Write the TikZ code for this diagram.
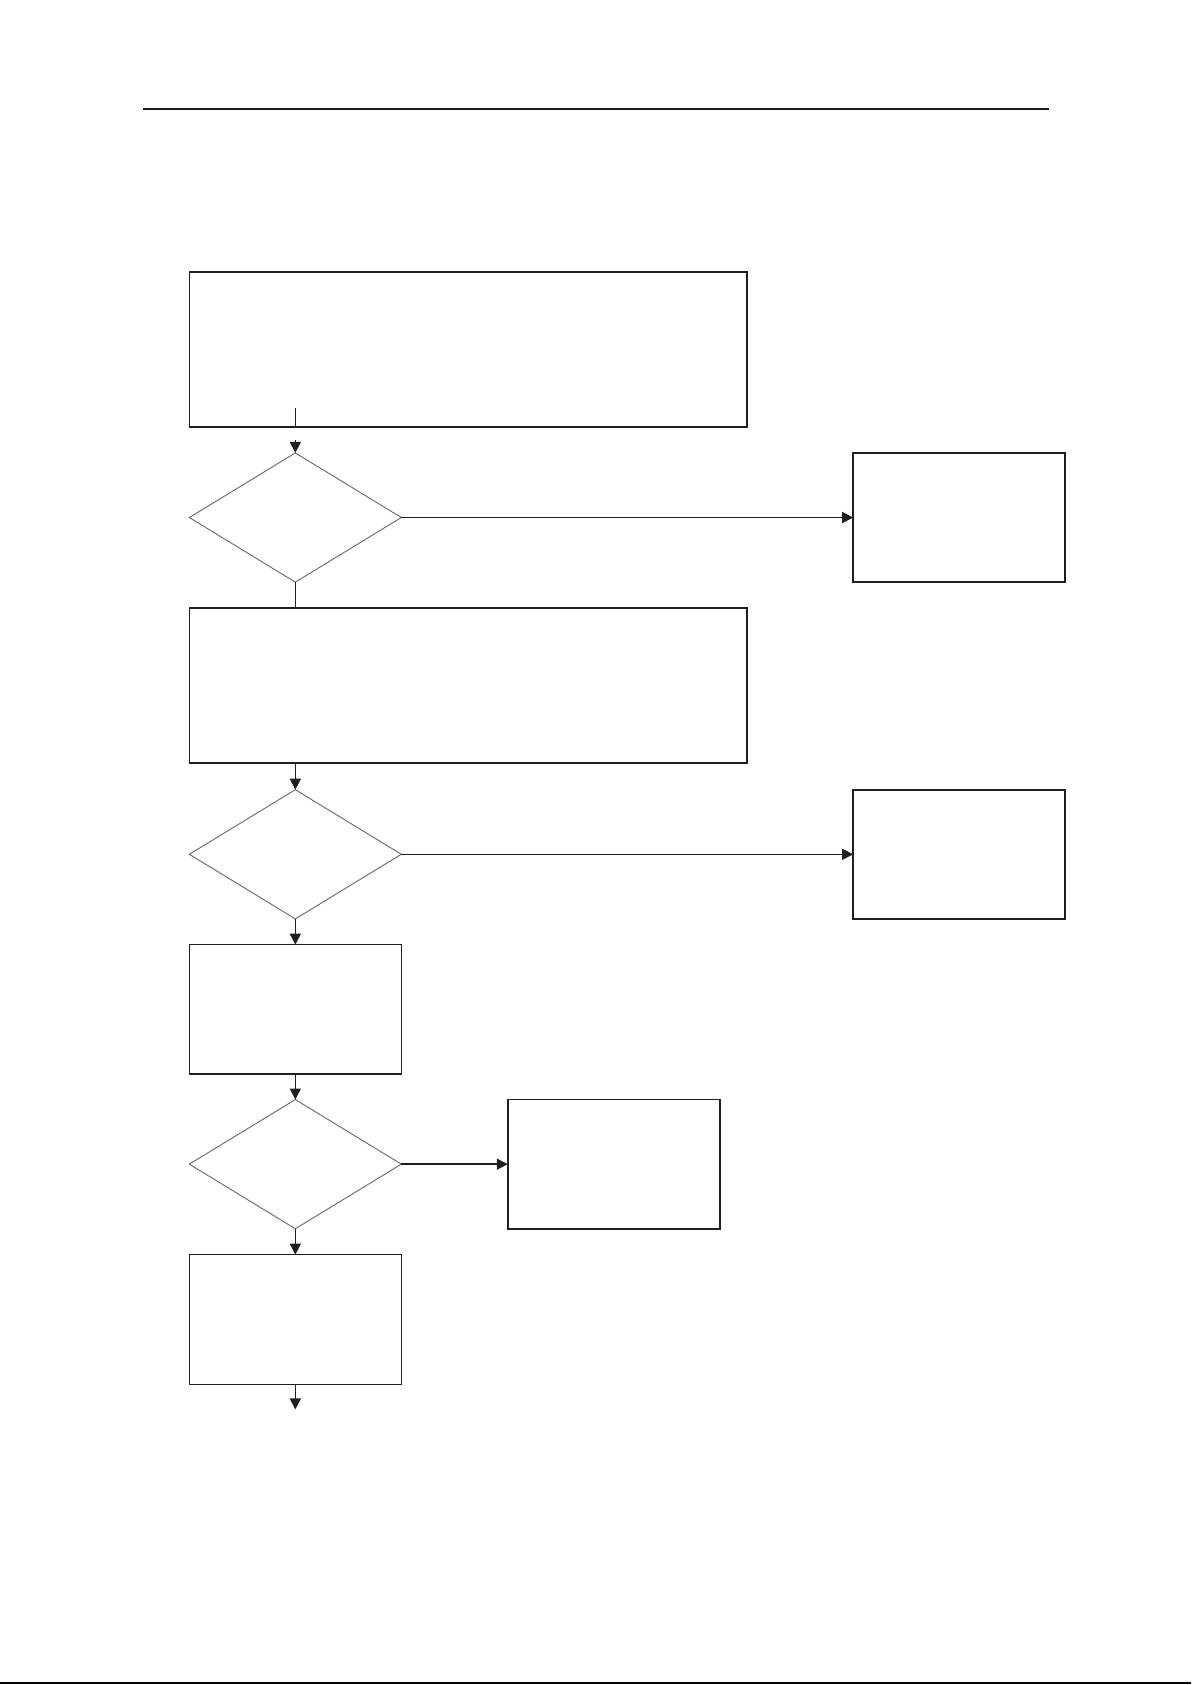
\documentclass[tikz,border=0pt]{standalone}
\usetikzlibrary{shapes.geometric,arrows.meta}
\begin{document}
\begin{tikzpicture}[x=0.538pt,y=-0.538pt,
  boxnode/.style={draw=black!88,line width=0.8pt,rectangle,inner sep=0pt,outer sep=0pt},
  decision/.style={draw=black!60,line width=0.45pt,diamond,inner sep=0pt,outer sep=0pt,
     minimum width=106pt,minimum height=64.6pt},
  conn/.style={draw=black!88,line width=0.75pt},
  arr/.style={conn,-{Triangle[length=5.5pt,width=5.5pt]}},
  rulestyle/.style={draw=black!90,line width=1.1pt}]
\useasboundingbox (0,0) rectangle (1107,1566.1);
\coordinate (ruleL) at (133,101);
\coordinate (ruleR) at (975,101);
\draw[rulestyle] (ruleL) -- (ruleR);
\coordinate (botL) at (0,1564.3);
\coordinate (botR) at (1107,1564.3);
\draw[draw=black,line width=1.1pt] (botL) -- (botR);

\node[boxnode,minimum width=278.7pt,minimum height=77.5pt] (b1) at (435,325) {};
\node[decision] (d1) at (274.5,481) {};
\node[boxnode,minimum width=106pt,minimum height=64.6pt] (r1) at (891.5,481) {};
\node[boxnode,minimum width=278.7pt,minimum height=77.5pt] (b2) at (435,637) {};
\node[decision] (d2) at (274.5,794) {};
\node[boxnode,minimum width=106pt,minimum height=64.6pt] (r2) at (891.5,794) {};
\node[boxnode,minimum width=106pt,minimum height=64.6pt] (b3) at (274.5,938) {};
\node[decision] (d3) at (274.5,1082) {};
\node[boxnode,minimum width=106pt,minimum height=64.6pt] (r3) at (570.5,1082) {};
\node[boxnode,minimum width=106pt,minimum height=65pt] (b4) at (274.5,1226.5) {};
\coordinate (endpt) at (274.5,1310);

\coordinate (stubtop) at (274.5,379.5);
\coordinate (gapend) at (274.5,409);
\draw[conn,line width=0.6pt] (stubtop) -- (stubtop |- b1.south);
\draw[arr] (gapend) -- (d1.north);
\draw[arr] (d1.east) -- (r1.west);
\draw[conn] (d1.south) -- (d1.south |- b2.north);
\draw[arr] (b2.south -| d2.north) -- (d2.north);
\draw[arr] (d2.east) -- (r2.west);
\draw[arr] (d2.south) -- (b3.north);
\draw[arr] (b3.south) -- (d3.north);
\draw[arr] (d3.east) -- (r3.west);
\draw[arr] (d3.south) -- (b4.north);
\draw[arr] (b4.south) -- (endpt);
\end{tikzpicture}
\end{document}
